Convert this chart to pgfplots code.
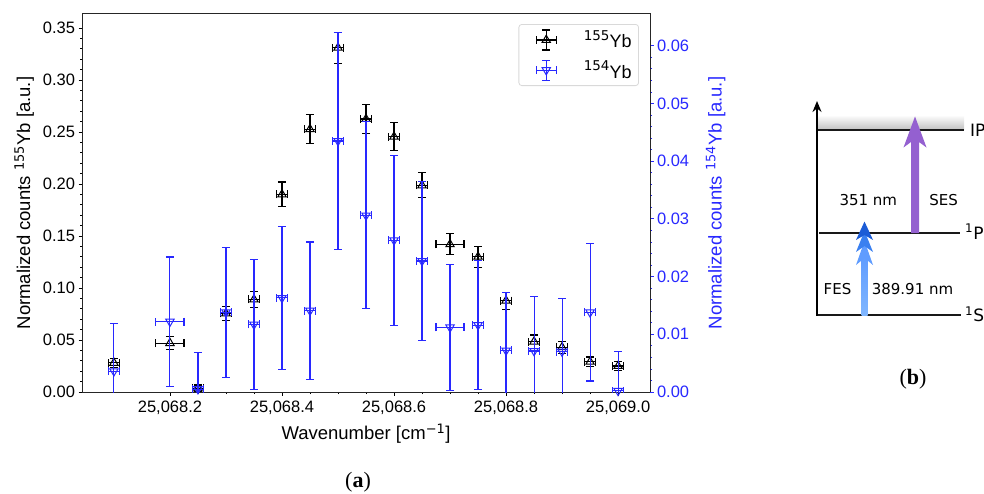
\documentclass[border=0pt]{standalone}
\usepackage{pgfplots}
\usepackage{pgfplotstable}
\pgfplotsset{compat=1.18}
\usepackage{fontspec}
\setmainfont{Liberation Sans}
\newfontfamily\dejavu{DejaVu Sans}
\newfontfamily\pal{Liberation Serif}
\usetikzlibrary{arrows.meta}
\definecolor{myblue}{RGB}{40,40,255}
\definecolor{ses}{RGB}{148,96,208}
\definecolor{fesA}{RGB}{128,182,255}
\definecolor{fesB}{RGB}{95,156,255}
\definecolor{fesC}{RGB}{58,128,240}
\definecolor{fesD}{RGB}{28,92,214}

% dnu = wavenumber - 25068 cm^-1
\pgfplotstableread{
dnu y ex ey
0.10 0.028 0.01 0.0043
0.20 0.047 0.025 0.0062
0.25 0.0035 0.01 0.0032
0.30 0.0756 0.01 0.0070
0.35 0.0890 0.01 0.0077
0.40 0.1900 0.01 0.0119
0.45 0.2527 0.01 0.0139
0.50 0.3310 0.01 0.0150
0.55 0.2625 0.01 0.0140
0.60 0.2455 0.01 0.0135
0.65 0.1987 0.01 0.0120
0.70 0.1420 0.025 0.0100
0.75 0.1300 0.01 0.0100
0.80 0.0878 0.01 0.0083
0.85 0.0484 0.01 0.0064
0.90 0.0430 0.01 0.0057
0.95 0.0290 0.01 0.0047
1.00 0.0250 0.01 0.0047
}\ybA
\pgfplotstableread{
dnu y ex ey
0.10 0.0036 0.01 0.0083
0.20 0.0122 0.025 0.0112
0.25 0.0005 0.01 0.0064
0.30 0.0138 0.01 0.0113
0.35 0.0117 0.01 0.0113
0.40 0.0163 0.01 0.0124
0.45 0.0141 0.01 0.0119
0.50 0.0435 0.01 0.0188
0.55 0.0306 0.01 0.0162
0.60 0.0263 0.01 0.0147
0.65 0.0227 0.01 0.0138
0.70 0.0112 0.025 0.0109
0.75 0.0116 0.01 0.0112
0.80 0.0072 0.01 0.0101
0.85 0.0071 0.01 0.0094
0.90 0.0070 0.01 0.0092
0.95 0.0138 0.01 0.0119
1.00 0.0002 0.01 0.0068
}\ybB

\newcommand{\fs}{\fontsize{16.5bp}{19.8bp}\selectfont}
\newcommand{\fl}{\fontsize{18.5bp}{22bp}\selectfont}
\newcommand{\fb}{\dejavu\fontsize{15bp}{18bp}\selectfont}
\newcommand{\sps}[1]{\textsuperscript{\dejavu #1}}
\newcommand{\lsps}[1]{\raisebox{0.42em}{\dejavu\fontsize{13.5bp}{15bp}\selectfont #1}}

\begin{document}
\begin{tikzpicture}
\path[use as bounding box] (0bp,0bp) rectangle (984bp,-494bp);

% ---------- panel (a), left axis ----------
\begin{axis}[
  scale only axis, width=568bp, height=378bp,
  at={(82bp,-392bp)}, anchor=south west,
  xmin=0.043, xmax=1.057, ymin=0, ymax=0.3635,
  xtick={0.2,0.4,0.6,0.8,1.0},
  xticklabels={{25,068.2},{25,068.4},{25,068.6},{25,068.8},{25,069.0}},
  minor x tick num=3,
  ytick={0,0.05,0.10,0.15,0.20,0.25,0.30,0.35},
  minor y tick num=4,
  scaled y ticks=false,
  /pgf/number format/fixed, /pgf/number format/fixed zerofill,
  /pgf/number format/precision=2, /pgf/number format/assume math mode=true,
  tick pos=left, tick align=outside,
  major tick length=3.5bp, minor tick length=2bp,
  tick style={black, line width=0.8bp},
  axis line style={line width=1bp, black!85},
  tick label style={font=\fs},
  xticklabel style={yshift=-2bp},
  label style={font=\fl},
  xlabel={Wavenumber [cm\sps{−1}]},
  xlabel style={at={(axis description cs:0.5,-0.125)}, anchor=base},
  ylabel={Normalized counts \sps{155}Yb [a.u.]},
  ylabel style={at={(axis description cs:-0.0915,0.5)}, anchor=base},
]
\addplot[black, line width=1.1bp, only marks, mark=triangle, mark size=4.8bp,
  mark options={solid, line width=1bp},
  error bars/.cd, x dir=both, x explicit, y dir=both, y explicit,
  error bar style={line width=1.1bp},
  error mark options={rotate=90, mark size=4bp, line width=1.1bp}]
  table[x=dnu, y=y, x error=ex, y error=ey] {\ybA};
\end{axis}

% ---------- panel (a), right axis ----------
\begin{axis}[
  scale only axis, width=568bp, height=378bp,
  at={(82bp,-392bp)}, anchor=south west,
  xmin=0.043, xmax=1.057, ymin=0, ymax=0.0655,
  axis x line=none, axis y line*=right,
  ytick={0,0.01,0.02,0.03,0.04,0.05,0.06},
  minor y tick num=4,
  scaled y ticks=false,
  /pgf/number format/fixed, /pgf/number format/fixed zerofill,
  /pgf/number format/precision=2, /pgf/number format/assume math mode=true,
  yticklabel style={myblue},
  tick align=outside,
  major tick length=3.5bp, minor tick length=2bp,
  tick style={myblue, line width=0.8bp},
  axis line style={line width=1bp, black!85},
  tick label style={font=\fs},
  label style={font=\fl},
  ylabel={Normalized counts \sps{154}Yb [a.u.]},
  ylabel style={myblue, at={(axis description cs:1.1262,0.5)}, anchor=base},
  legend style={at={(axis description cs:0.9806,0.9735)}, anchor=north east,
    draw=black!15, line width=0.8bp, rounded corners=3bp, fill=white,
    font=\fontsize{18bp}{21bp}\selectfont, inner xsep=7bp, inner ysep=5bp, row sep=9bp,
    nodes={inner sep=0bp},
    /tikz/every odd column/.append style={column sep=27bp}},
  legend cell align=left,
]
\addlegendimage{legend image code/.code={
  \path (0bp,0bp);
  \draw[black, line width=1.1bp] (10bp,0bp) -- (30bp,0bp) (20bp,-10bp) -- (20bp,10bp)
    (10bp,-4bp) -- (10bp,4bp) (30bp,-4bp) -- (30bp,4bp) (16bp,-10bp) -- (24bp,-10bp) (16bp,10bp) -- (24bp,10bp);
  \draw[black, line width=1bp, mark=triangle, mark size=4.8bp] plot coordinates {(20bp,0bp)};}}
\addlegendentry{\lsps{155}Yb}
\addlegendimage{legend image code/.code={
  \path (0bp,0bp);
  \draw[myblue, line width=1.1bp] (10bp,0bp) -- (30bp,0bp) (20bp,-10bp) -- (20bp,10bp)
    (10bp,-4bp) -- (10bp,4bp) (30bp,-4bp) -- (30bp,4bp) (16bp,-10bp) -- (24bp,-10bp) (16bp,10bp) -- (24bp,10bp);
  \draw[myblue, line width=1bp, mark=triangle, mark size=4.8bp, mark options={rotate=180}] plot coordinates {(20bp,0bp)};}}
\addlegendentry{\lsps{154}Yb}
\addplot[myblue, line width=1.1bp, only marks, mark=triangle, mark size=4.8bp,
  mark options={solid, rotate=180, line width=1bp}, forget plot,
  error bars/.cd, x dir=both, x explicit, y dir=both, y explicit,
  error bar style={line width=1.1bp},
  error mark options={rotate=90, mark size=4bp, line width=1.1bp}]
  table[x=dnu, y=y, x error=ex, y error=ey] {\ybB};
\end{axis}

% ---------- panel (b) and panel labels (pixel frame) ----------
\begin{axis}[
  scale only axis, width=984bp, height=494bp,
  at={(0bp,-494bp)}, anchor=south west,
  xmin=0, xmax=984, ymin=-494, ymax=0,
  hide axis, clip=false]
% ionisation continuum shading
\addplot[draw=none, top color=white, bottom color=black!25]
  coordinates {(817,-115) (964,-115) (964,-130) (817,-130)} -- cycle;
% energy levels
\addplot[black!90, line width=1.4bp] coordinates {(817,-130) (964,-130)};
\addplot[black!90, line width=1.4bp] coordinates {(819,-233) (960,-233)};
\addplot[black!90, line width=1.4bp] coordinates {(817,-315) (961,-315)};
% energy axis
\addplot[black, line width=1.4bp, -{Stealth[length=11bp,width=9bp]}]
  coordinates {(817,-315.7) (817,-101)};
% SES arrow
\addplot[fill=ses, draw=none] coordinates {(911,-233) (919,-233) (919,-142) (926.5,-147.5) (915,-116.5) (903.5,-147.5) (911,-142)} -- cycle;
% FES arrow
\addplot[draw=none, bottom color=fesA, top color=fesB] coordinates {(861.5,-315) (867.5,-315) (867.5,-255) (861.5,-255)} -- cycle;
\addplot[fill=fesB, draw=none] coordinates {(864.5,-241) (873,-265) (864.5,-258) (856,-265)} -- cycle;
\addplot[fill=fesC, draw=none] coordinates {(864.5,-231) (873,-252) (864.5,-246) (856,-252)} -- cycle;
\addplot[fill=fesD, draw=none] coordinates {(864.5,-221.5) (873,-240) (864.5,-235) (856,-240)} -- cycle;
% labels
\node[font=\fb] at (axis cs:868.3,-200) {351 nm};
\node[font=\fb] at (axis cs:943.7,-200) {SES};
\node[font=\fb] at (axis cs:837.5,-289) {FES};
\node[font=\fb] at (axis cs:912.5,-289) {389.91 nm};
\node[font=\dejavu\fontsize{17bp}{20bp}\selectfont, anchor=west, inner sep=0pt] at (axis cs:970,-130) {IP};
\node[font=\dejavu\fontsize{17bp}{20bp}\selectfont, anchor=west, inner sep=0pt] at (axis cs:965,-233) {\textsuperscript{1}P\textsubscript{1}};
\node[font=\dejavu\fontsize{17bp}{20bp}\selectfont, anchor=west, inner sep=0pt] at (axis cs:965,-316) {\textsuperscript{1}S\textsubscript{0}};
\node[font=\pal\fontsize{22bp}{26bp}\selectfont] at (axis cs:358,-482) {(\textbf{a})};
\node[font=\pal\fontsize{22bp}{26bp}\selectfont] at (axis cs:913,-379) {(\textbf{b})};
\end{axis}
\end{tikzpicture}
\end{document}
